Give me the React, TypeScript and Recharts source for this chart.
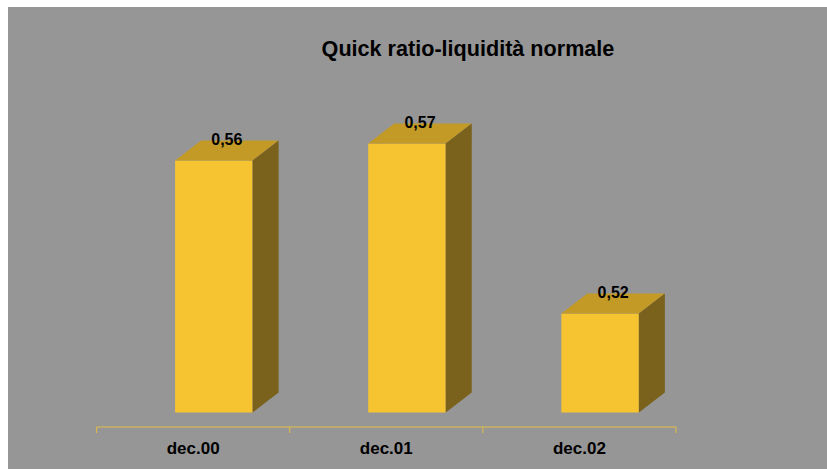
import React from 'react';
import { BarChart, Bar, XAxis, YAxis, LabelList } from 'recharts';

const periods = ['dec.00', 'dec.01', 'dec.02'];
const quickRatio = [0.5624, 0.5666, 0.5245];
const valueDomain: [number, number] = [0.5, 0.58];

const data = periods.map((name, i) => ({ name, value: quickRatio[i] }));

const W = 819;
const H = 462;
const MARGIN = { top: 97, right: 151, bottom: 0, left: 88.6 };
const BAND = (W - MARGIN.left - MARGIN.right) / periods.length;

// 3D projection: bars sit at mid depth, side/top faces go the full depth
const DX = 20.5;
const DY = 14.5;
const SX = 26;
const SY = 20;

const FONT = '"Liberation Sans", Arial, sans-serif';
const GOLD = '#e2bc47';

const Bar3D = (props: any) => {
  const { x, y, width, height } = props;
  const fx = x + DX;
  const fy = y - DY;
  const top = `${fx},${fy} ${fx + SX},${fy - SY} ${fx + width + SX},${fy - SY} ${fx + width},${fy}`;
  const side = `${fx + width},${fy} ${fx + width + SX},${fy - SY} ${fx + width + SX},${fy + height - SY} ${fx + width},${fy + height}`;
  return (
    <g>
      <rect x={fx} y={fy} width={width} height={height} fill="#f7c431" />
      <polygon points={top} fill="#c39a26" />
      <polygon points={side} fill="#7a611c" />
    </g>
  );
};

const ValueLabel = (props: any) => {
  const { x, y, width, value } = props;
  return (
    <text
      x={x + DX + (width + SX) / 2}
      y={y - DY - SY - 1}
      textAnchor="middle"
      dominantBaseline="central"
      fontFamily={FONT}
      fontWeight="bold"
      fontSize={16}
      fill="#000"
    >
      {Number(value).toFixed(2).replace('.', ',')}
    </text>
  );
};

const CategoryTick = (props: any) => {
  const { x, y, payload, index } = props;
  const axisY = y - 8;
  return (
    <g>
      <line x1={x - BAND / 2} y1={axisY} x2={x - BAND / 2} y2={axisY + 6} stroke={GOLD} />
      {index === periods.length - 1 && (
        <line x1={x + BAND / 2} y1={axisY} x2={x + BAND / 2} y2={axisY + 6} stroke={GOLD} />
      )}
      <text
        x={x}
        y={axisY + 27}
        textAnchor="middle"
        fontFamily={FONT}
        fontWeight="bold"
        fontSize={17}
        fill="#000"
      >
        {payload.value}
      </text>
    </g>
  );
};

export default function App() {
  return (
    <div
      style={{
        position: 'fixed',
        left: 8,
        top: 7,
        width: W,
        height: H,
        background: '#969696',
      }}
    >
      <BarChart width={W} height={H} data={data} margin={MARGIN}>
        <XAxis
          dataKey="name"
          height={42}
          axisLine={{ stroke: GOLD }}
          tickLine={false}
          tickSize={6}
          tickMargin={2}
          tick={<CategoryTick />}
          interval={0}
        />
        <YAxis hide domain={valueDomain} allowDataOverflow />
        <Bar dataKey="value" barSize={77.5} shape={<Bar3D />} isAnimationActive={false}>
          <LabelList dataKey="value" content={<ValueLabel />} />
        </Bar>
      </BarChart>
      <svg
        width={W}
        height={80}
        style={{ position: 'absolute', left: 0, top: 0, pointerEvents: 'none' }}
      >
        <text
          x={460}
          y={48.5}
          textAnchor="middle"
          fontFamily={FONT}
          fontWeight="bold"
          fontSize={21.6}
          fill="#000"
        >
          Quick ratio-liquidità normale
        </text>
      </svg>
    </div>
  );
}
